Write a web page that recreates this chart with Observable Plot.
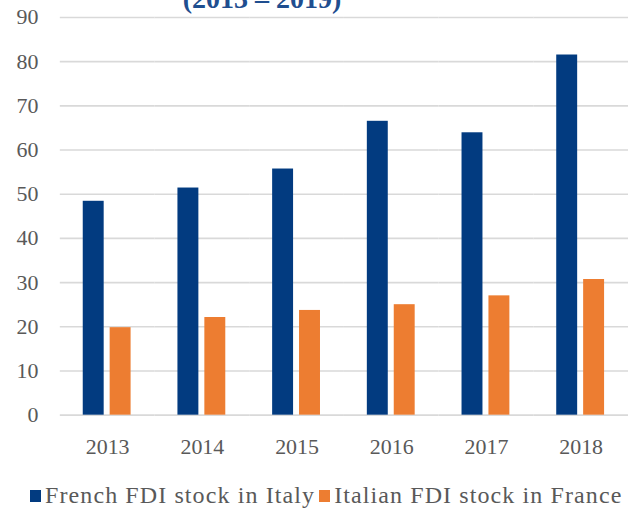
<!DOCTYPE html>
<html>
<head>
<meta charset="utf-8">
<script src="https://cdn.jsdelivr.net/npm/d3@7"></script>
<script src="https://cdn.jsdelivr.net/npm/@observablehq/plot@0.6"></script>
<style>
  html, body { margin: 0; padding: 0; background: #fff; overflow: hidden; width: 629px; height: 509px; }
  #wrap { position: relative; width: 629px; height: 509px; }
  #title { position: absolute; top: -17px; left: 0; width: 524px; text-align: center; font-family: "Liberation Serif", "Times New Roman", serif; font-weight: bold; font-size: 28px; color: #1f4e8f; white-space: nowrap; }
  #chart { position: absolute; top: 0; left: 0; }
  #legend { position: absolute; top: 482px; left: 30px; font-family: "Liberation Serif", "Times New Roman", serif; font-size: 24px; letter-spacing: 1.1px; color: #595959; white-space: nowrap; display: flex; align-items: center; }
  .sw { display: inline-block; width: 11px; height: 12px; margin-right: 4px; }
  .item { display: inline-flex; align-items: center; margin-right: 4px; }
  #chart svg text { font-family: "Liberation Serif", "Times New Roman", serif; }
</style>
</head>
<body>
<div id="wrap">
  <div id="chart"></div>
  <div id="title">(2013 – 2019)</div>
  <div id="legend"></div>
</div>
<script>
const years = ["2013", "2014", "2015", "2016", "2017", "2018"];
const seriesNames = ["French FDI stock in Italy", "Italian FDI stock in France"];
const frenchInItaly = [48.4, 51.4, 55.7, 66.5, 63.9, 81.5];
const italianInFrance = [19.8, 22.1, 23.7, 25.0, 27.0, 30.7];
const seriesColors = ["#023b80", "#ed7d31"];
const yTicks = [0, 10, 20, 30, 40, 50, 60, 70, 80, 90];

const data = [];
years.forEach((y, i) => {
  data.push({year: y, series: seriesNames[0], value: frenchInItaly[i]});
  data.push({year: y, series: seriesNames[1], value: italianInFrance[i]});
});

const chart = Plot.plot({
  width: 631,
  height: 460,
  marginLeft: 59,
  marginRight: 0,
  marginTop: 17,
  marginBottom: 44,
  style: {fontFamily: "'Liberation Serif', 'Times New Roman', serif", fontSize: "22px", color: "#595959", background: "transparent"},
  fx: {domain: years, padding: 0, label: null},
  x: {domain: seriesNames, axis: null, paddingInner: 0.204, paddingOuter: 0.86},
  y: {domain: [0, 90], ticks: yTicks, label: null},
  color: {domain: seriesNames, range: seriesColors},
  marks: [
    Plot.gridY(yTicks, {stroke: "#d9d9d9", strokeOpacity: 1, strokeWidth: 1.6}),
    Plot.barY(data, {fx: "year", x: "series", y: "value", fill: "series"}),
    Plot.axisFx({anchor: "bottom", fontSize: 22, tickSize: 0, tickPadding: 23, label: null}),
    Plot.axisY({ticks: yTicks, fontSize: 22, tickSize: 0, tickPadding: 22, label: null})
  ]
});
document.getElementById("chart").appendChild(chart);

const legend = document.getElementById("legend");
seriesNames.forEach((name, i) => {
  const item = document.createElement("span");
  item.className = "item";
  const sw = document.createElement("span");
  sw.className = "sw";
  sw.style.background = seriesColors[i];
  item.appendChild(sw);
  item.appendChild(document.createTextNode(name));
  legend.appendChild(item);
});
</script>
</body>
</html>
